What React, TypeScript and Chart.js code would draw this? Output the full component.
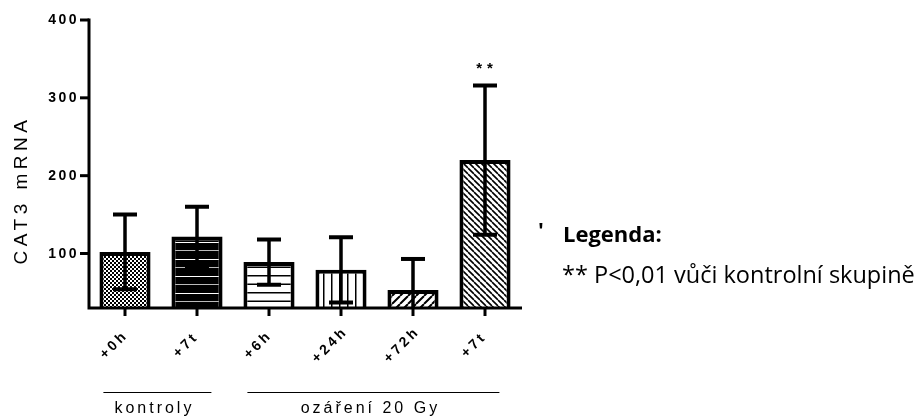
import React, { useEffect, useRef } from "react";
import { Chart, registerables } from "chart.js";

Chart.register(...registerables);

// Groups of samples (x categories)
const categories = ["+0h", "+7t", "+6h", "+24h", "+72h", "+7t"];
// Mean CAT3 mRNA level per sample
const meanValues = [102, 122, 89, 79, 53, 220];
// Error (± deviation) per sample
const errorValues = [48, 38, 29, 42, 40, 96];
// Significance marks drawn above the error bar
const significance = ["", "", "", "", "", "**"];
// Y axis
const yMin = 30;
const yMax = 400;
const yTicks = [100, 200, 300, 400];
// Group brackets under the x axis
const groupLabels = ["kontroly", "ozáření 20 Gy"];
const groupFrom = [0, 2];
const groupTo = [1, 5];
// Note text on the right
const legendTitle = "Legenda:";
const legendNote = "** P<0,01 vůči kontrolní skupině";

function makeTile(w: number, h: number, draw: (c: CanvasRenderingContext2D) => void) {
  const cv = document.createElement("canvas");
  cv.width = w;
  cv.height = h;
  const c = cv.getContext("2d")!;
  draw(c);
  return cv;
}

function buildPatterns(ctx: CanvasRenderingContext2D): (CanvasPattern | string)[] {
  const checker = makeTile(4, 4, (c) => {
    c.fillStyle = "#fff";
    c.fillRect(0, 0, 4, 4);
    c.fillStyle = "#000";
    c.fillRect(0, 0, 2, 2);
    c.fillRect(2, 2, 2, 2);
  });
  const blackStripes = makeTile(4, 17, (c) => {
    c.fillStyle = "#000";
    c.fillRect(0, 0, 4, 17);
    c.fillStyle = "#fff";
    c.fillRect(0, 4, 4, 1);
    c.fillStyle = "#bbb";
    c.fillRect(0, 12, 4, 1);
  });
  const hLines = makeTile(4, 17, (c) => {
    c.fillStyle = "#fff";
    c.fillRect(0, 0, 4, 17);
    c.fillStyle = "#000";
    c.fillRect(0, 3, 4, 1.5);
    c.fillRect(0, 11.5, 4, 1.5);
  });
  const vLines = makeTile(8, 4, (c) => {
    c.fillStyle = "#fff";
    c.fillRect(0, 0, 8, 4);
    c.fillStyle = "#000";
    c.fillRect(3, 0, 1.5, 4);
  });
  const diag = (s: number, lw: number, forward: boolean) =>
    makeTile(s, s, (c) => {
      c.fillStyle = "#fff";
      c.fillRect(0, 0, s, s);
      c.strokeStyle = "#000";
      c.lineWidth = lw;
      c.beginPath();
      for (let k = -1; k <= 1; k++) {
        if (forward) {
          c.moveTo(k * s, s);
          c.lineTo(k * s + s, 0);
        } else {
          c.moveTo(k * s, 0);
          c.lineTo(k * s + s, s);
        }
      }
      c.stroke();
    });
  return [
    ctx.createPattern(checker, "repeat")!,
    ctx.createPattern(blackStripes, "repeat")!,
    ctx.createPattern(hLines, "repeat")!,
    ctx.createPattern(vLines, "repeat")!,
    ctx.createPattern(diag(8, 2, true), "repeat")!,
    ctx.createPattern(diag(6, 1.6, false), "repeat")!,
  ];
}

const decorPlugin = {
  id: "decor",
  afterDatasetsDraw(chart: any) {
    const ctx: CanvasRenderingContext2D = chart.ctx;
    const x = chart.scales.x;
    const y = chart.scales.y;
    const area = chart.chartArea;
    ctx.save();
    ctx.fillStyle = "#000";
    ctx.strokeStyle = "#000";

    // error bars
    ctx.save();
    ctx.beginPath();
    ctx.rect(area.left, area.top - 30, area.right - area.left, area.bottom - area.top + 30);
    ctx.clip();
    meanValues.forEach((v, i) => {
      const cx = x.getPixelForValue(i);
      const hi = y.getPixelForValue(v + errorValues[i]);
      const lo = y.getPixelForValue(v - errorValues[i]);
      ctx.lineWidth = 3.5;
      ctx.beginPath();
      ctx.moveTo(cx, hi);
      ctx.lineTo(cx, Math.min(lo, area.bottom));
      ctx.stroke();
      ctx.lineWidth = 4;
      ctx.beginPath();
      ctx.moveTo(cx - 12, hi);
      ctx.lineTo(cx + 12, hi);
      if (lo < area.bottom) {
        ctx.moveTo(cx - 12, lo);
        ctx.lineTo(cx + 12, lo);
      }
      ctx.stroke();
    });
    ctx.restore();

    // axes
    ctx.lineWidth = 3;
    ctx.lineCap = "butt";
    ctx.beginPath();
    ctx.moveTo(area.left, y.getPixelForValue(yMax) - 1.5);
    ctx.lineTo(area.left, area.bottom + 1.5);
    ctx.moveTo(area.left - 1.5, area.bottom);
    ctx.lineTo(area.right + 1, area.bottom);
    ctx.stroke();

    // y ticks + labels
    ctx.font = "bold 14px 'Liberation Sans', Arial, sans-serif";
    (ctx as any).letterSpacing = "2.5px";
    ctx.textAlign = "right";
    ctx.textBaseline = "middle";
    yTicks.forEach((t) => {
      const py = y.getPixelForValue(t);
      ctx.beginPath();
      ctx.moveTo(area.left - 9, py);
      ctx.lineTo(area.left, py);
      ctx.stroke();
      ctx.fillText(String(t), area.left - 10, py + 0.5);
    });

    // x ticks + rotated labels
    categories.forEach((c, i) => {
      const px = x.getPixelForValue(i);
      ctx.beginPath();
      ctx.moveTo(px, area.bottom);
      ctx.lineTo(px, area.bottom + 8);
      ctx.stroke();
      ctx.save();
      ctx.translate(px - 11, area.bottom + 37);
      ctx.rotate(-Math.PI / 4);
      ctx.font = "bold 14px 'Liberation Sans', Arial, sans-serif";
      (ctx as any).letterSpacing = "3px";
      ctx.textAlign = "center";
      ctx.textBaseline = "middle";
      ctx.fillText(c, 0, 0);
      ctx.restore();
    });

    // significance stars
    ctx.font = "bold 15px 'Liberation Sans', Arial, sans-serif";
    (ctx as any).letterSpacing = "5px";
    ctx.textAlign = "center";
    ctx.textBaseline = "middle";
    significance.forEach((s, i) => {
      if (!s) return;
      const px = x.getPixelForValue(i);
      const py = y.getPixelForValue(meanValues[i] + errorValues[i]);
      ctx.fillText(s, px + 2, py - 17);
    });

    // y title
    ctx.save();
    ctx.translate(22, 190);
    ctx.rotate(-Math.PI / 2);
    ctx.font = "19px 'Liberation Sans', Arial, sans-serif";
    (ctx as any).letterSpacing = "4.5px";
    ctx.textAlign = "center";
    ctx.textBaseline = "middle";
    ctx.fillText("CAT3 mRNA", 0, 0);
    ctx.restore();

    // group brackets
    ctx.lineWidth = 1.2;
    ctx.font = "16px 'Liberation Sans', Arial, sans-serif";
    (ctx as any).letterSpacing = "3px";
    ctx.textAlign = "center";
    ctx.textBaseline = "middle";
    groupLabels.forEach((g, i) => {
      const x0 = x.getPixelForValue(groupFrom[i] - 0.3);
      const x1 = x.getPixelForValue(groupTo[i] + 0.2);
      ctx.beginPath();
      ctx.moveTo(x0, 392.5);
      ctx.lineTo(x1, 392.5);
      ctx.stroke();
      ctx.fillText(g, (x0 + x1) / 2 - 3, 409);
    });

    // legend note
    (ctx as any).letterSpacing = "0px";
    ctx.textAlign = "left";
    ctx.textBaseline = "alphabetic";
    ctx.font = "bold 22px 'Open Sans', Lato, sans-serif";
    ctx.fillText("'", 538, 238);
    ctx.fillText(legendTitle, 563, 242);
    ctx.font = "23.5px 'Open Sans', Lato, sans-serif";
    ctx.fillText(legendNote, 562, 283);

    ctx.restore();
  },
};

export default function App() {
  const ref = useRef<HTMLCanvasElement>(null);
  useEffect(() => {
    const canvas = ref.current!;
    const ctx = canvas.getContext("2d")!;
    const patterns = buildPatterns(ctx);
    const chart = new Chart(canvas, {
      type: "bar",
      data: {
        labels: categories,
        datasets: [
          {
            data: meanValues,
            backgroundColor: patterns as any,
            borderColor: "#000",
            borderWidth: 4,
            categoryPercentage: 1,
            barPercentage: 0.71,
          },
        ],
      },
      options: {
        responsive: false,
        animation: false,
        devicePixelRatio: 1,
        layout: { padding: { left: 89, top: 20, right: 398, bottom: 109 } },
        plugins: { legend: { display: false }, tooltip: { enabled: false } },
        scales: {
          x: { display: false, offset: true },
          y: { display: false, min: yMin, max: yMax },
        },
      },
      plugins: [decorPlugin],
    });
    return () => chart.destroy();
  }, []);
  return (
    <div style={{ position: "fixed", left: 0, top: 0, width: 919, height: 417, background: "#fff" }}>
      <canvas ref={ref} width={919} height={417} style={{ display: "block", width: 919, height: 417 }} />
    </div>
  );
}
